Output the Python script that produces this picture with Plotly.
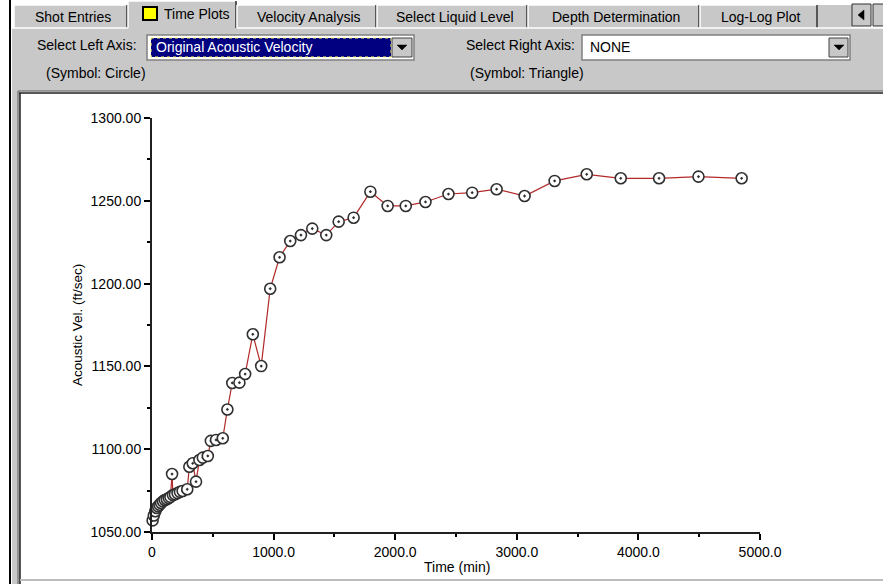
import plotly.graph_objects as go

# ---- data: acoustic velocity survey vs elapsed time ----
time_min = [5, 15, 27, 39, 50, 62, 75, 90, 105, 122, 138, 152, 165, 172, 189, 210,
            230, 252, 290, 307, 335, 362, 390, 418, 459, 484, 527, 582, 620, 660,
            719, 766, 829, 898, 972, 1049, 1137, 1225, 1318, 1433, 1535, 1658,
            1796, 1938, 2087, 2249, 2438, 2633, 2834, 3064, 3311, 3575, 3855,
            4170, 4494, 4849]
velocity = [1057.0, 1060.0, 1062.5, 1064.5, 1065.5, 1066.5, 1067.5, 1068.5,
            1069.3, 1069.8, 1070.5, 1071.2, 1085.0, 1072.3, 1072.8, 1073.5,
            1074.2, 1074.8, 1075.8, 1089.4, 1091.5, 1080.4, 1093.5, 1094.9,
            1095.9, 1105.0, 1105.6, 1106.6, 1124.0, 1140.0, 1140.2, 1145.4,
            1169.4, 1150.2, 1196.9, 1215.9, 1225.7, 1229.3, 1233.2, 1229.3,
            1237.4, 1239.8, 1255.5, 1246.9, 1246.9, 1249.3, 1254.1, 1254.9,
            1257.0, 1252.9, 1262.0, 1266.0, 1263.6, 1263.6, 1264.6, 1263.6]

x_ticks = [0, 1000, 2000, 3000, 4000, 5000]
x_tick_labels = ["0", "1000.0", "2000.0", "3000.0", "4000.0", "5000.0"]
y_ticks = [1050, 1100, 1150, 1200, 1250, 1300]
y_tick_labels = ["1050.00", "1100.00", "1150.00", "1200.00", "1250.00", "1300.00"]

tab_names = ["Shot Entries", "Time Plots", "Velocity Analysis",
             "Select Liquid Level", "Depth Determination", "Log-Log Plot"]

# ---- page geometry (pixels) ----
W_FIG, H_FIG = 883, 584
L, R, T, B = 152, 760, 118, 532
PW, PH = R - L, B - T
GRAY = "#c8c8c8"
DARK = "#808080"
UI_FONT = "Liberation Sans"
UI_SIZE = 14


def px(x):
    return (x - L) / PW


def py(y):
    return (B - y) / PH


shapes = []


def rect(x0, y0, x1, y1, fill, line_color=None, lw=0, dash=None):
    shapes.append(dict(type="rect", xref="paper", yref="paper",
                       x0=px(x0), x1=px(x1), y0=py(y0), y1=py(y1),
                       fillcolor=fill, layer="below",
                       line=dict(color=line_color or fill, width=lw,
                                 dash=dash or "solid")))


def seg(x0, y0, x1, y1, color, lw=1):
    shapes.append(dict(type="line", xref="paper", yref="paper",
                       x0=px(x0), x1=px(x1), y0=py(y0), y1=py(y1),
                       layer="below", line=dict(color=color, width=lw)))


def tri(points, color="black"):
    path = "M " + " L ".join(f"{px(a)},{py(b)}" for a, b in points) + " Z"
    shapes.append(dict(type="path", xref="paper", yref="paper", path=path,
                       fillcolor=color, line=dict(color=color, width=0.5),
                       layer="above"))


annotations = []


def label(text, x, y, anchor="left", color="black", size=UI_SIZE, angle=0):
    annotations.append(dict(text=text, xref="paper", yref="paper",
                            x=px(x), y=py(y), xanchor=anchor, yanchor="middle",
                            showarrow=False, textangle=angle,
                            font=dict(family=UI_FONT, size=size, color=color)))


# window chrome: control bar and left frame
rect(12, 28, 884, 91, GRAY)
rect(12, 91, 20, 585, GRAY)
seg(10, 0, 10, 584, "black", 2)
seg(18, 91, 884, 91, DARK, 1.5)
seg(19, 93, 884, 93, "#202020", 1.5)
seg(18, 91, 18, 584, DARK, 1.5)
seg(20, 93, 20, 584, "#202020", 1.5)
seg(20, 580, 884, 580, "#bdbdbd", 2)

# tab strip
tab_edges = [(14, 128), (128, 237), (237, 377), (377, 528), (528, 700), (700, 818)]
rect(818, 5, 852, 28, GRAY)
for i, ((a, b), name) in enumerate(zip(tab_edges, tab_names)):
    top = 1 if i == 1 else 5
    rect(a, top, b, 28 if i != 1 else 30, GRAY)
    seg(a, top, b, top, "white", 1.5)
    seg(a, top, a, 28, "white", 1.5)
    seg(b - 1, top, b - 1, 28, "#303030", 1.5)
    if i == 1:
        label(name, 162, 14)
    else:
        label(name, (a + b) / 2 + 2, 17, anchor="center")
seg(12, 28, 128, 28, "white", 1.5)
seg(237, 28, 884, 28, "white", 1.5)
rect(143, 7, 157, 20, "#ffff00", "black", 2)

# scroll buttons at the end of the tab strip
rect(852, 4, 871, 26, GRAY, "#303030", 1)
rect(873, 4, 892, 26, GRAY, "#303030", 1)
tri([(858, 15), (864, 10), (864, 20)])

# left axis selector
rect(147, 35, 414, 60, "white", DARK, 1.5)
rect(151, 38, 391, 57, "#000080", "#ffff66", 1, "dot")
rect(392, 38, 412, 57, GRAY, "#404040", 1)
tri([(397, 45), (407, 45), (402, 50)])
label("Select Left Axis:", 139, 45, anchor="right")
label("Original Acoustic Velocity", 154, 47, color="white")
label("(Symbol: Circle)", 44, 73)

# right axis selector
rect(582, 35, 850, 60, "white", DARK, 1.5)
rect(829, 38, 848, 57, GRAY, "#404040", 1)
tri([(834, 45), (844, 45), (839, 50)])
label("Select Right Axis:", 577, 45, anchor="right")
label("NONE", 588, 47)
label("(Symbol: Triangle)", 468, 73)

# axis titles
label("Acoustic Vel. (ft/sec)", 77, 325, anchor="center", size=13.5, angle=-90)
label("Time (min)", 457, 567, anchor="center", size=14)

fig = go.Figure()
fig.add_trace(go.Scatter(
    x=time_min, y=velocity, mode="lines+markers",
    line=dict(color="#b22a2a", width=1.2),
    marker=dict(symbol="circle-dot", size=11, color="white",
                line=dict(color="#303030", width=1.6)),
    cliponaxis=False, hoverinfo="x+y", showlegend=False))

axis_font = dict(family=UI_FONT, size=14, color="black")
fig.update_xaxes(range=[0, 5000], tickmode="array", tickvals=x_ticks,
                 ticktext=x_tick_labels, ticks="outside", ticklen=6,
                 tickwidth=1.5, tickcolor="black", showline=True,
                 linewidth=2, linecolor="#202020", showgrid=False,
                 zeroline=False, tickfont=axis_font,
                 minor=dict(tickmode="linear", tick0=500, dtick=1000,
                            ticks="outside", ticklen=3, tickcolor="black",
                            tickwidth=1.5))
fig.update_yaxes(range=[1050, 1300], tickmode="array", tickvals=y_ticks,
                 ticktext=y_tick_labels, ticks="outside", ticklen=6,
                 tickwidth=1.5, tickcolor="black", showline=True,
                 linewidth=2, linecolor="#202020", showgrid=False,
                 zeroline=False, tickfont=axis_font,
                 minor=dict(tickmode="linear", tick0=1075, dtick=50,
                            ticks="outside", ticklen=3, tickcolor="black",
                            tickwidth=1.5))

fig.update_layout(
    width=W_FIG, height=H_FIG,
    margin=dict(l=L, r=W_FIG - R, t=T, b=H_FIG - B, pad=0),
    paper_bgcolor="white", plot_bgcolor="white",
    shapes=shapes, annotations=annotations,
    font=dict(family=UI_FONT, size=UI_SIZE, color="black"),
)

fig.write_html("out.html")
